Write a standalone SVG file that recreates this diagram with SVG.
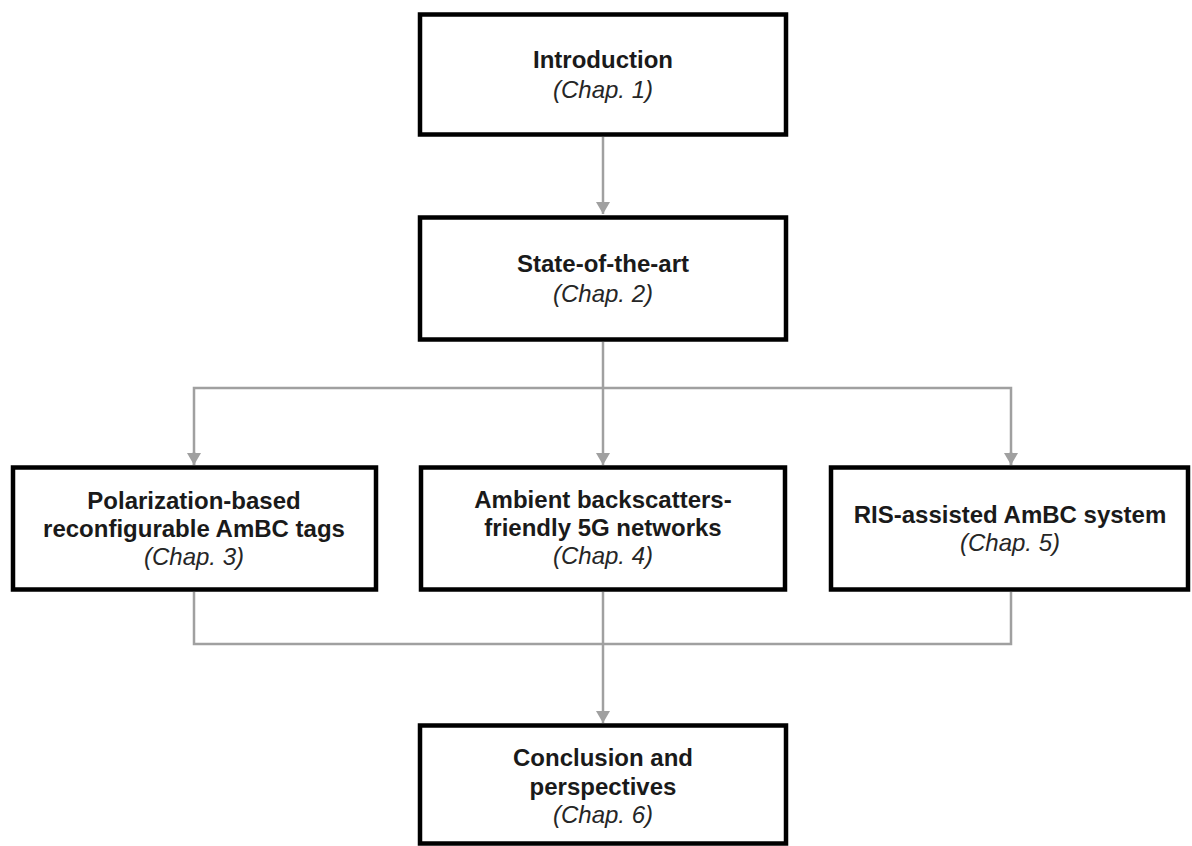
<svg xmlns="http://www.w3.org/2000/svg" width="1192" height="846" viewBox="0 0 1192 846">
<defs>
<style>
.box{fill:#fff;stroke:#000;stroke-width:4.5}
.t{font-family:"Liberation Sans",Arial,sans-serif;font-size:24px;font-weight:bold;fill:#1a1a1a;text-anchor:middle}
.c{font-family:"Liberation Sans",Arial,sans-serif;font-size:24px;font-style:italic;fill:#262626;text-anchor:middle}
.ln{fill:none;stroke:#a0a0a0;stroke-width:2.5}
</style>
<marker id="ah" viewBox="0 0 12 14" refX="12" refY="7" markerWidth="12" markerHeight="14" markerUnits="userSpaceOnUse" orient="auto">
<path d="M0,0 L12,7 L0,14 Z" fill="#a0a0a0"/>
</marker>
</defs>
<rect width="1192" height="846" fill="#fff"/>
<g id="connectors">
<line class="ln" x1="603" y1="137" x2="603" y2="214" marker-end="url(#ah)"/>
<line class="ln" x1="603" y1="342" x2="603" y2="465" marker-end="url(#ah)"/>
<path class="ln" d="M194,465 V388 H1011 V465" />
<line class="ln" x1="194" y1="452" x2="194" y2="465" marker-end="url(#ah)"/>
<line class="ln" x1="1011" y1="452" x2="1011" y2="465" marker-end="url(#ah)"/>
<path class="ln" d="M194,592 V644 H1011 V592"/>
<line class="ln" x1="603" y1="592" x2="603" y2="723" marker-end="url(#ah)"/>
</g>
<g id="n1">
<rect class="box" x="420" y="14.5" width="366" height="120"/>
<text class="t" x="603" y="68">Introduction</text>
<text class="c" x="603" y="98">(Chap. 1)</text>
</g>
<g id="n2">
<rect class="box" x="420" y="217.5" width="366" height="122"/>
<text class="t" x="603" y="272">State-of-the-art</text>
<text class="c" x="603" y="302">(Chap. 2)</text>
</g>
<g id="n3">
<rect class="box" x="13" y="467.5" width="363" height="122"/>
<text class="t" x="194" y="509">Polarization-based</text>
<text class="t" x="194" y="537">reconfigurable AmBC tags</text>
<text class="c" x="194" y="565">(Chap. 3)</text>
</g>
<g id="n4">
<rect class="box" x="421" y="467.5" width="364" height="122"/>
<text class="t" x="603" y="508">Ambient backscatters-</text>
<text class="t" x="603" y="536">friendly 5G networks</text>
<text class="c" x="603" y="564">(Chap. 4)</text>
</g>
<g id="n5">
<rect class="box" x="831" y="467.5" width="357" height="122"/>
<text class="t" x="1010" y="523">RIS-assisted AmBC system</text>
<text class="c" x="1010" y="551">(Chap. 5)</text>
</g>
<g id="n6">
<rect class="box" x="420" y="725.5" width="366" height="118"/>
<text class="t" x="603" y="766">Conclusion and</text>
<text class="t" x="603" y="795">perspectives</text>
<text class="c" x="603" y="823">(Chap. 6)</text>
</g>
</svg>
